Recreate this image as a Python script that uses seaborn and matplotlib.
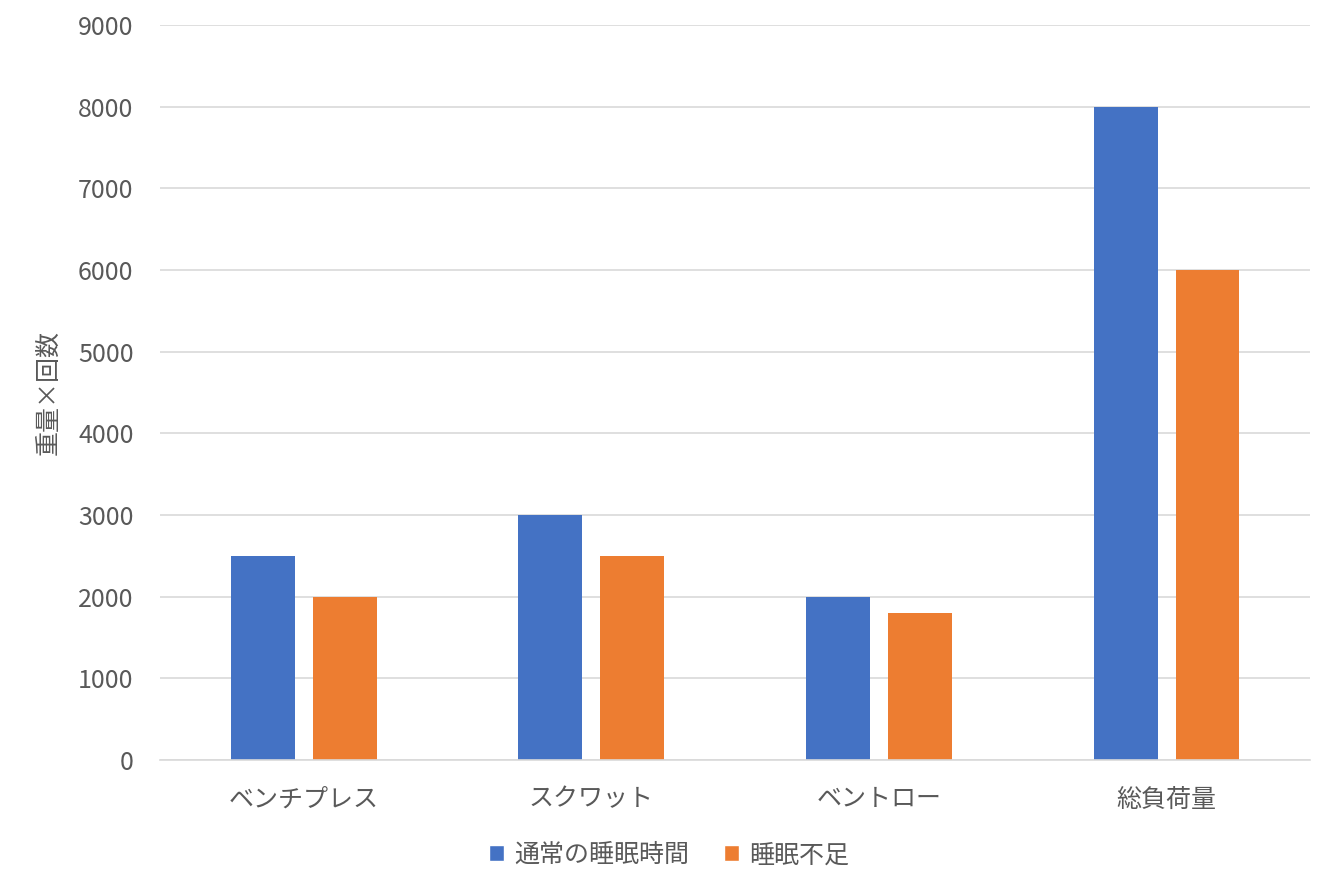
import pandas as pd
import matplotlib.pyplot as plt
import seaborn as sns
from matplotlib.patches import Patch

exercises = ['ベンチプレス', 'スクワット', 'ベントロー', '総負荷量']
series = ['通常の睡眠時間', '睡眠不足']
normal_sleep = [2500, 3000, 2000, 8000]
sleep_deprived = [2000, 2500, 1800, 6000]
y_ticks = [0, 1000, 2000, 3000, 4000, 5000, 6000, 7000, 8000, 9000]
colors = ['#4472C4', '#ED7D31']

df = pd.DataFrame({
    '種目': exercises * 2,
    '条件': [series[0]] * 4 + [series[1]] * 4,
    '値': normal_sleep + sleep_deprived,
})

sns.set_theme(style='white')
plt.rcParams['font.family'] = ['Noto Sans CJK JP', 'DejaVu Sans']
text_color = '#595959'

fig = plt.figure(figsize=(13.33, 8.89), dpi=100)
ax = fig.add_axes([0.120, 0.145, 0.863, 0.827])

sns.barplot(data=df, x='種目', y='値', hue='条件', palette=colors,
            width=0.57, gap=0.22, ax=ax, legend=False, saturation=1,
            linewidth=0)

ax.set_xlim(-0.5, 3.5)
ax.set_ylim(0, 9000)
ax.set_yticks(y_ticks)
ax.yaxis.grid(True, color='#D9D9D9', linewidth=1.2)
ax.set_axisbelow(True)
for side in ['top', 'right', 'left']:
    ax.spines[side].set_visible(False)
ax.spines['bottom'].set_color('#D9D9D9')
ax.spines['bottom'].set_linewidth(1.2)

ax.tick_params(axis='both', length=0, labelsize=18, labelcolor=text_color)
ax.tick_params(axis='x', pad=19)
ax.tick_params(axis='y', pad=19)
ax.set_xlabel('')
ax.set_ylabel('重量×回数', fontsize=18, color=text_color, labelpad=12)

handles = [Patch(facecolor=c, label=s) for c, s in zip(colors, series)]
fig.legend(handles=handles, loc='center', bbox_to_anchor=(0.502, 0.038), ncol=2,
           frameon=False, fontsize=18, labelcolor=text_color,
           handlelength=0.6, handleheight=0.6, handletextpad=0.4, columnspacing=1.4)

fig.savefig('out.png', dpi=100)
